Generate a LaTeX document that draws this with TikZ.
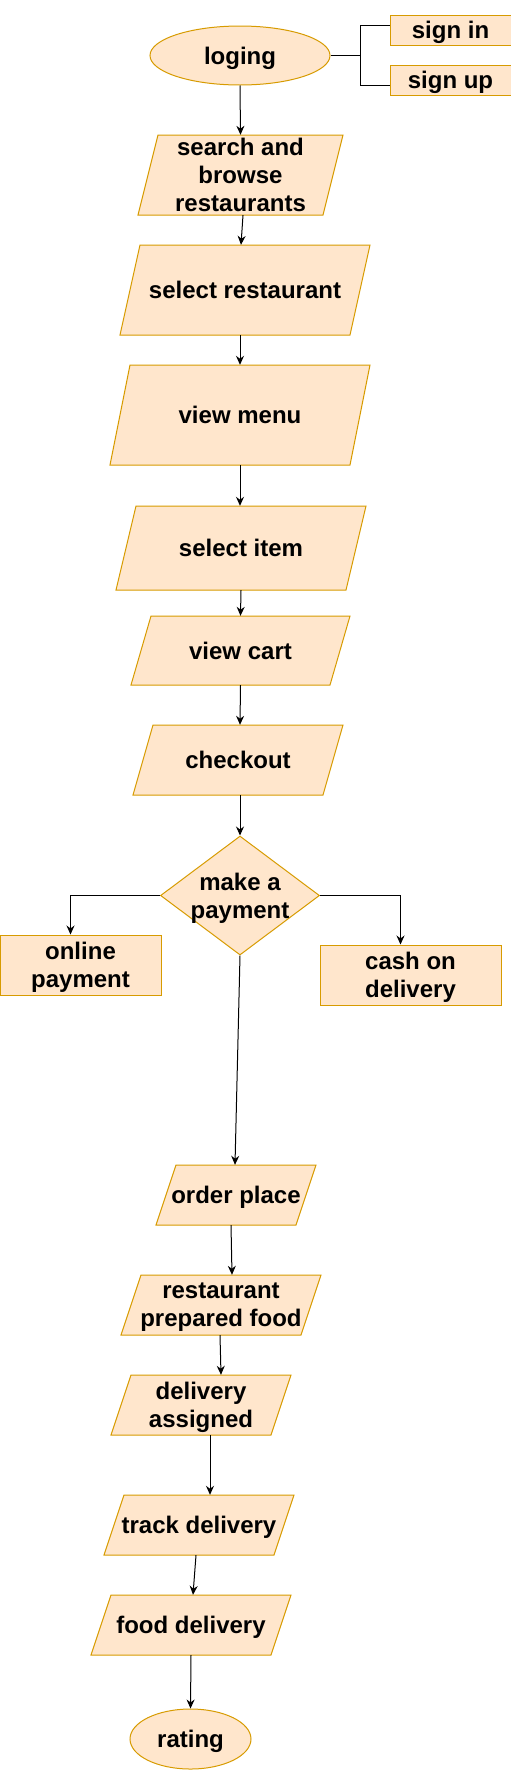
\documentclass[tikz,border=0pt]{standalone}
\usepackage{fontspec}
\setmainfont{Liberation Sans}
\usepackage{xcolor}
\usetikzlibrary{arrows.meta,shapes.geometric}
\definecolor{Peach}{HTML}{FFE6CC}
\definecolor{Amber}{HTML}{D79B00}
\tikzset{
  boxline/.style={fill=Peach, draw=Amber, line width=1pt},
  boxtext/.style={inner sep=0pt, text depth=0pt, align=center, font=\fontsize{24}{28}\selectfont\bfseries},
  flow/.style={black, line width=1pt, -{Stealth[length=9pt,width=8pt]}},
  link/.style={black, line width=1pt}
}
\newcommand{\parabox}[6]{
  \begin{scope}[shift={(#2,#3)}]
    \draw[boxline] (-#4/2+20,-#5/2) -- (#4/2,-#5/2) -- (#4/2-20,#5/2) -- (-#4/2,#5/2) -- cycle;
    \node[boxtext, minimum width=#4, minimum height=#5] (#1) at (0,0) {#6};
  \end{scope}
}

\begin{document}
\begin{tikzpicture}[x=1pt, y=-1pt]
        \useasboundingbox (0,0) rectangle (511,1770);
        \node[ellipse, boxline, boxtext, minimum width=180, minimum height=59] (loging) at (240,55.5) {loging};
        \node[boxline, boxtext, minimum width=121, minimum height=30] (signin) at (450.5,30) {sign in};
        \node[boxline, boxtext, minimum width=121, minimum height=30] (signup) at (450.5,80) {sign up};
        \parabox{search}{240.5}{175}{205}{80}{search and\\browse\\restaurants}
        \parabox{selrest}{245}{290}{250}{90}{select restaurant}
        \parabox{viewmenu}{240}{415}{260}{100}{view menu}
        \parabox{selitem}{241}{548}{250}{84}{select item}
        \parabox{viewcart}{240.5}{650.5}{219}{69}{view cart}
        \parabox{checkout}{238}{760}{210}{70}{checkout}
        \node[diamond, boxline, minimum width=159, minimum height=119, inner sep=0pt] (pay) at (240,895.5) {};
        \node[boxtext] (paytext) at (pay) {make a\\payment};
        \node[boxline, boxtext, minimum width=161, minimum height=60] (online) at (80.5,965) {online\\payment};
        \node[boxline, boxtext, minimum width=181, minimum height=60] (cash) at (410.5,975) {cash on\\delivery};
        \parabox{orderplace}{236}{1195}{160}{60}{order place}
        \parabox{restprep}{221}{1305}{200}{60}{restaurant\\prepared food}
        \parabox{delassign}{201}{1405}{180}{60}{delivery\\assigned}
        \parabox{track}{199}{1525}{190}{60}{track delivery}
        \parabox{fooddel}{191}{1625}{200}{60}{food delivery}
        \node[ellipse, boxline, boxtext, minimum width=121, minimum height=60] (rating) at (190.5,1739) {rating};
        \draw[link] (loging.east) -- ++(30,0) coordinate (fork);
        \draw[link] (fork) |- ([yshift=5pt]signin.west);
        \draw[link] (fork) |- ([yshift=-5pt]signup.west);
        \foreach \a/\b/\s/\t in {loging/search/0/0, search/selrest/2.5/-4, selrest/viewmenu/-5/0,
            viewmenu/selitem/0/-1, selitem/viewcart/0/0, viewcart/checkout/0/2, checkout/pay/2/0,
            pay/orderplace/0/-1, orderplace/restprep/-5/11, restprep/delassign/-1/20,
            delassign/track/9/11, track/fooddel/-3/2, fooddel/rating/0/0}
          \draw[flow] ([xshift=\s pt]\a.south) -- ([xshift=\t pt]\b.north);
        \draw[flow] (pay.west) -| ([xshift=-10pt]online.north);
        \draw[flow] (pay.east) -| ([xshift=-10pt]cash.north);
      \end{tikzpicture}
\end{document}
